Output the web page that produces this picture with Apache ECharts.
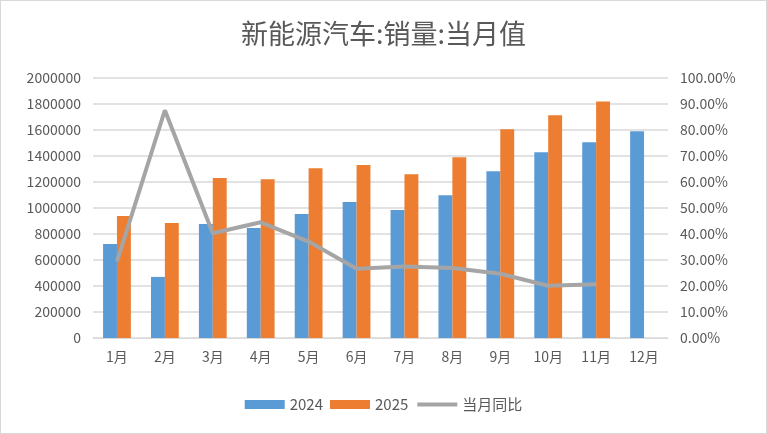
<!DOCTYPE html>
<html><head><meta charset="utf-8">
<script src="https://cdn.jsdelivr.net/npm/echarts@6/dist/echarts.min.js"></script>
<style>html,body{margin:0;padding:0;background:#fff}#c{width:767px;height:434px;box-sizing:border-box;border:1px solid #d9d9d9}</style>
</head><body><div id="c"></div>
<script>
const categories = ['1月','2月','3月','4月','5月','6月','7月','8月','9月','10月','11月','12月'];
const sales2024 = [723000,470000,877000,846000,954000,1046000,984000,1099000,1283000,1429000,1506000,1590000];
const sales2025 = [938000,885000,1230000,1222000,1306000,1330000,1260000,1391000,1606000,1713000,1820000,null];
const yoy = [29.4,87.6,40.3,44.5,37.1,26.6,27.5,26.9,24.7,20.1,20.7,null];
const leftTicks = {min:0,max:2000000,interval:200000};
const rightTicks = {min:0,max:100,interval:10};

const chart = echarts.init(document.getElementById('c'));
const txt = '#595959';
const font = '"Noto Sans CJK SC", "Noto Sans", sans-serif';
chart.setOption({
  animation:false,
  textStyle:{fontFamily:font},
  title:{text:'新能源汽车:销量:当月值',left:'center',top:14,textStyle:{fontSize:27,fontWeight:'normal',color:txt,fontFamily:font}},
  legend:{bottom:16,left:'center',itemGap:7,itemWidth:40,itemHeight:9,textStyle:{fontSize:15,color:txt,fontFamily:font},
    data:[{name:'2024',icon:'rect'},{name:'2025',icon:'rect'},{name:'当月同比',itemStyle:{opacity:0},lineStyle:{width:4,color:'#A5A5A5'}}]},
  grid:{left:92,right:98,top:77,bottom:95,containLabel:false},
  xAxis:{type:'category',data:categories,axisTick:{show:false},axisLine:{lineStyle:{color:'#d9d9d9',width:1}},
    axisLabel:{color:txt,fontSize:14,margin:12,fontFamily:font}},
  yAxis:[
    {type:'value',min:leftTicks.min,max:leftTicks.max,interval:leftTicks.interval,
     axisLabel:{color:txt,fontSize:14,margin:12,formatter:v=>String(v)},splitLine:{lineStyle:{color:'#d9d9d9',width:1.5}},axisLine:{show:false}},
    {type:'value',min:rightTicks.min,max:rightTicks.max,interval:rightTicks.interval,
     axisLabel:{color:txt,fontSize:14,margin:12,formatter:v=>v.toFixed(2)+'%'},splitLine:{show:false},axisLine:{show:false}}
  ],
  series:[
    {name:'2024',type:'bar',data:sales2024,barGap:'0%',barCategoryGap:'42%',itemStyle:{color:'#5B9BD5'}},
    {name:'2025',type:'bar',data:sales2025,itemStyle:{color:'#ED7D31'}},
    {name:'当月同比',type:'line',yAxisIndex:1,data:yoy,symbol:'none',lineStyle:{color:'#A5A5A5',width:4},itemStyle:{color:'#A5A5A5'}}
  ]
});
</script></body></html>
